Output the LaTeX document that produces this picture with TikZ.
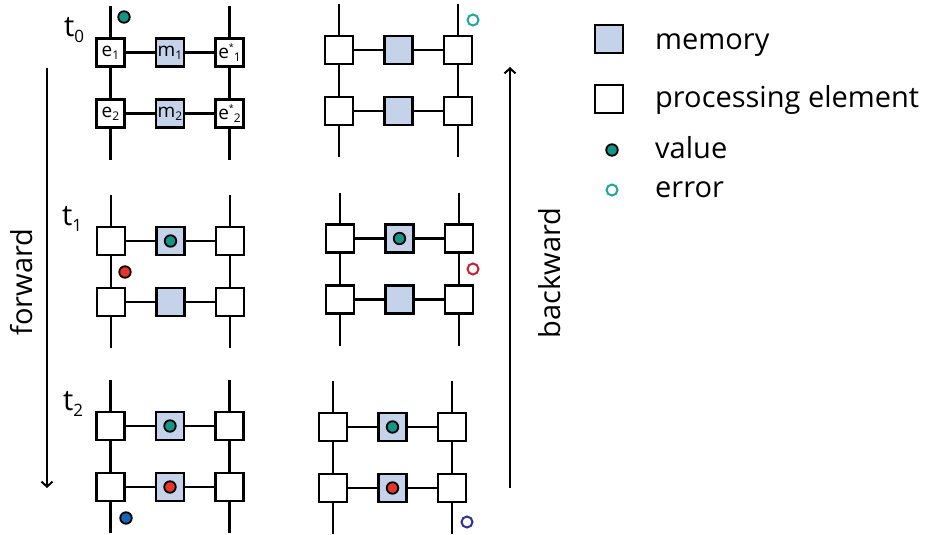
\documentclass[tikz,border=0pt]{standalone}
\usepackage{fontspec}
\setmainfont{Open Sans}
\usepackage{tikz}
\usetikzlibrary{arrows.meta}

\definecolor{memblue}{RGB}{196,210,234}
\definecolor{valteal}{RGB}{18,150,136}
\definecolor{errteal}{RGB}{30,168,155}
\definecolor{valred}{RGB}{232,52,42}
\definecolor{errred}{RGB}{200,32,48}
\definecolor{valblue}{RGB}{22,100,178}
\definecolor{errnavy}{RGB}{46,49,146}

\newcommand{\bigtxt}{\fontsize{29}{32}\selectfont}
\newcommand{\boxtxt}{\fontsize{19}{20}\selectfont}
\newcommand{\lowidx}[1]{\raisebox{-0.3ex}{\fontsize{12}{12}\selectfont #1}}
\newcommand{\staridx}[1]{\raisebox{0.75ex}{\fontsize{9}{9}\selectfont *}\lowidx{#1}}
\newcommand{\tlab}[1]{t\raisebox{-0.35ex}{\fontsize{17}{17}\selectfont #1}}

% one memory row pair: name, position of upper left box, six box texts
\newcommand{\unit}[8]{%
\begin{scope}[shift={(#2)}]
\node[pe] (#1e1) at (0,0) {#3};
\node[mem] (#1m1) at (59.5,0) {#4};
\node[pe] (#1f1) at (119,0) {#5};
\node[pe] (#1e2) at (0,61) {#6};
\node[mem] (#1m2) at (59.5,61) {#7};
\node[pe] (#1f2) at (119,61) {#8};
\coordinate (#1in) at (0,-46);
\coordinate (#1out) at (0,107);
\coordinate (#1rin) at (119,-46);
\coordinate (#1rout) at (119,107);
\draw[wire] (#1in) -- (#1e1) -- (#1e2) -- (#1out);
\draw[wire] (#1rin) -- (#1f1) -- (#1f2) -- (#1rout);
\draw[wire] (#1e1) -- (#1m1) -- (#1f1);
\draw[wire] (#1e2) -- (#1m2) -- (#1f2);
\end{scope}}

\begin{document}
\begin{tikzpicture}[x=1pt,y=-1pt,
  pe/.style={draw,line width=2.7pt,fill=white,minimum size=28pt,inner sep=0pt,font=\boxtxt},
  mem/.style={pe,fill=memblue},
  wire/.style={line width=2.2pt},
  dot/.style={circle,draw,line width=1.8pt,minimum size=11.5pt,inner sep=0pt,fill=#1},
  ring/.style={circle,draw=#1,line width=2pt,minimum size=11pt,inner sep=0pt},
  flow/.style={line width=2pt,-{Straight Barb[length=5pt,width=11pt,line width=2pt]}},
  lbl/.style={anchor=base west,font=\bigtxt,inner sep=0pt}]
\useasboundingbox (0,0) rectangle (926,535);

% forward pass
\unit{A}{110.5,52.5}{e\lowidx{1}}{m\lowidx{1}}{e\staridx{1}}{e\lowidx{2}}{m\lowidx{2}}{e\staridx{2}}
\unit{C}{111,241}{}{}{}{}{}{}
\unit{E}{110.5,426}{}{}{}{}{}{}

% backward pass
\unit{B}{339,50}{}{}{}{}{}{}
\unit{D}{340,238.5}{}{}{}{}{}{}
\unit{F}{333,427}{}{}{}{}{}{}

\node[font=\bigtxt] (t0) at (74,30) {\tlab{0}};
\node[font=\bigtxt] (t1) at (72,219) {\tlab{1}};
\node[font=\bigtxt] (t2) at (73,404) {\tlab{2}};

% values and errors
\node[dot=valteal] (v0) at (124,17) {};
\node[dot=valteal] (v1) at (Cm1) {};
\node[dot=valred] (v2) at (125,272) {};
\node[dot=valteal] (v3) at (Em1) {};
\node[dot=valred] (v4) at (Em2) {};
\node[dot=valblue] (v5) at (126,518) {};
\node[dot=valteal] (v6) at (Dm1) {};
\node[dot=valteal] (v7) at (Fm1) {};
\node[dot=valred] (v8) at (Fm2) {};
\node[ring=errteal] (r0) at (473,20) {};
\node[ring=errred] (r1) at (473,269) {};
\node[ring=errnavy] (r2) at (467,522) {};

% time arrows
\coordinate (fwdtop) at (47,68);
\coordinate (fwdbot) at (47,488);
\coordinate (bwdbot) at (510,488);
\coordinate (bwdtop) at (510,67);
\draw[flow] (fwdtop) -- (fwdbot);
\draw[flow] (bwdbot) -- (bwdtop);
\node[font=\bigtxt,rotate=90] (fwd) at (22,282) {forward};
\node[font=\bigtxt,rotate=90] (bwd) at (550,273) {backward};

% legend
\node[mem] (legmem) at (609,39) {};
\node[lbl] (legmemtxt) at (655,50) {memory};
\node[pe] (legpe) at (609,99) {};
\node[lbl] (legpetxt) at (655,107) {processing element};
\node[dot=valteal] (legval) at (612,150) {};
\node[lbl] (legvaltxt) at (655,158) {value};
\node[ring=errteal] (legerr) at (612,190) {};
\node[lbl] (legerrtxt) at (655,197) {error};
\end{tikzpicture}
\end{document}
